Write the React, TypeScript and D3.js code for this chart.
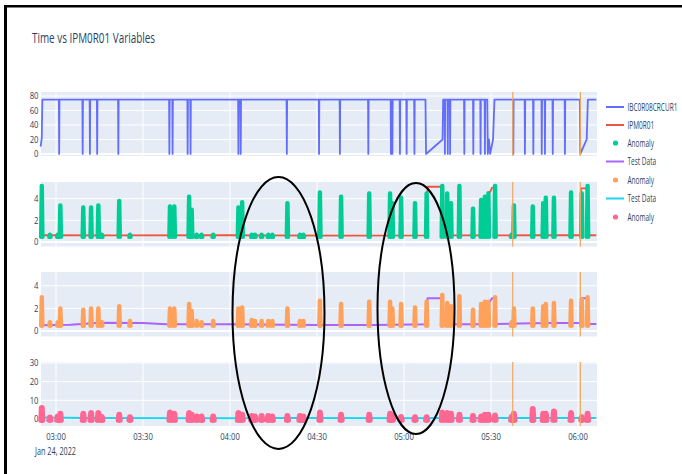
import React from 'react';
import * as d3 from 'd3';

// ---------------- data ----------------
const TITLE = 'Time vs IPM0R01 Variables';
const DATE_LABEL = 'Jan 24, 2022';
const START = new Date(2022, 0, 24, 3, 0, 0); // minutes below are measured from 03:00
const X_DOMAIN_MIN = [-5.17, 186.55];

const P1_TICKS = [0, 20, 40, 60, 80];
const P2_TICKS = [0, 2, 4];
const P3_TICKS = [0, 2, 4];
const P4_TICKS = [0, 10, 20, 30];

const LEGEND_NAMES = ['IBC0R08CRCUR1', 'IPM0R01', 'Anomaly', 'Test Data', 'Anomaly', 'Test Data', 'Anomaly'];
const LEGEND_KINDS = ['line', 'line', 'marker', 'line', 'marker', 'line', 'marker'];
const SERIES_COLORS = ['#636EFA', '#EF553B', '#00CC96', '#AB63FA', '#FFA15A', '#19D3F3', '#FF6692'];

// IBC0R08CRCUR1 : level with short drops to zero
const BLUE_LEVEL = 75;
const BLUE_DROPS = [1.1, 9.2, 11.7, 14.2, 21.5, 39.1, 40.2, 45.4, 46.4, 62.9, 63.7, 79.6, 90.7, 97.9,
  107.7, 115.5, 116.0, 118.6, 120.9, 123.6, 134.1, 135.1, 135.9, 140.8, 143.9, 146.4, 147.9,
  157.7, 161.7, 164.6, 167.5, 168.6, 171.3, 175.5];
const BLUE_GAP_POINTS: [number, number][] = [
  [-5.3, 10], [-4.9, 22], [-4.7, 75],
  [127.4, 75], [127.6, 0], [133.3, 20], [133.5, 75],
  [148.7, 75], [148.9, 0], [149.3, 20], [149.7, 0], [150.7, 20], [151.2, 75],
  [180.6, 75], [180.8, 0], [183.0, 20], [183.4, 75], [186.3, 75],
];

// IPM0R01 (panel 2)
const RED_LINE: [number, number][] = [
  [-5.3, 0.62], [20, 0.6], [60, 0.62], [100, 0.58], [128.0, 0.6], [128.1, 5.1], [132.9, 5.1], [133.0, 0.6],
  [148.9, 0.6], [149.0, 4.6], [149.7, 4.6], [150.3, 5.0], [151.4, 5.05], [151.5, 0.6],
  [165, 0.62], [180.9, 0.62], [181.0, 4.95], [183.3, 4.95], [183.4, 0.62], [186.3, 0.62],
];
// Test Data (panel 3)
const PURPLE_LINE: [number, number][] = [
  [-5.3, 0.5], [5, 0.55], [15, 0.72], [30, 0.7], [38, 0.6], [60, 0.6], [90, 0.52], [110, 0.52],
  [128.0, 0.6], [128.1, 2.9], [132.9, 2.9], [133.0, 0.6], [148.9, 0.6], [149.0, 2.6], [149.7, 2.6],
  [150.3, 2.9], [151.4, 2.9], [151.5, 0.62], [160, 0.66], [170, 0.7], [180.9, 0.7], [181.0, 2.9],
  [183.3, 2.9], [183.4, 0.62], [186.3, 0.62],
];
// Test Data (panel 4)
const CYAN_LINE: [number, number][] = [
  [-5.3, 0.8], [10, 0.5], [40, 0.4], [80, 0.5], [120, 0.45], [160, 0.6], [186.3, 0.6],
];

// Anomaly events (minutes after 03:00) and their peak values in each panel
const ANOMALY_TIMES = [-4.9, -2.1, 0.6, 1.5, 9.4, 12.1, 14.6, 15.8, 21.8, 25.5, 39.3, 40.8, 45.9, 46.8,
  48.5, 50.2, 54.2, 62.9, 64.2, 67.5, 68.6, 70.9, 73.2, 74.6, 79.8, 84.1, 85.3, 91.0, 98.3, 108.0,
  115.2, 116.0, 119.0, 123.8, 127.8, 133.2, 134.9, 136.2, 139.1, 143.8, 146.6, 147.9, 149.1, 151.4,
  157.1, 157.9, 164.4, 168.0, 168.9, 171.7, 177.6, 181.3, 183.3];
const ANOMALY_P2 = [5.2, 0.7, 0.7, 3.4, 3.2, 3.2, 3.4, 0.7, 3.8, 0.7, 3.3, 3.3, 4.2, 3.0,
  0.7, 0.7, 0.7, 3.2, 3.7, 0.7, 0.7, 0.7, 0.7, 0.7, 3.6, 0.7, 0.7, 4.6, 4.2, 4.5,
  4.5, 3.6, 4.1, 3.6, 4.5, 5.2, 4.5, 3.6, 5.2, 3.1, 3.9, 4.2, 4.5, 5.2,
  0.7, 3.4, 3.3, 3.6, 4.1, 4.1, 4.6, 4.5, 5.2];
const ANOMALY_P3 = [3.0, 0.8, 0.8, 2.0, 1.9, 2.0, 2.0, 0.8, 2.2, 0.9, 2.0, 2.0, 2.4, 1.8,
  0.9, 0.8, 0.9, 2.0, 2.1, 1.0, 0.9, 0.9, 0.9, 0.9, 2.0, 0.9, 0.9, 2.7, 2.4, 2.6,
  2.6, 2.0, 2.4, 2.1, 2.6, 3.2, 2.5, 2.2, 3.1, 1.9, 2.4, 2.6, 2.6, 3.0,
  0.8, 2.0, 2.0, 2.2, 2.4, 2.5, 2.7, 2.8, 3.0];
const ANOMALY_P4 = [6.0, 1.0, 1.5, 2.9, 3.0, 3.3, 3.3, 1.2, 2.4, 1.1, 3.6, 3.0, 3.3, 2.4,
  1.5, 1.5, 1.5, 3.3, 2.4, 1.8, 1.5, 1.8, 1.8, 1.5, 1.8, 1.8, 1.5, 3.6, 2.4, 2.4,
  2.9, 2.0, 1.2, 1.1, 1.1, 3.6, 3.3, 2.9, 2.4, 1.8, 1.5, 2.4, 2.4, 2.0,
  1.2, 2.9, 5.5, 2.9, 2.9, 4.2, 3.3, 1.1, 2.9];
const ANOMALY_BASES = [0.45, 0.45, -0.6];

const MARKER_LINE_TIMES = [157.5, 180.8];

// ---------------- drawing ----------------
const W = 682;
const H = 474;
const PLOT_LEFT = 41;
const PLOT_RIGHT = 597;
const TEXT = '#2a3f5f';
const FONT = "'Open Sans', 'Liberation Sans', sans-serif";

const toDate = (m: number) => new Date(START.getTime() + m * 60000);

const panels = [
  { top: 92, bottom: 156, domain: [-2.8, 85.5], ticks: P1_TICKS },
  { top: 182, bottom: 246.5, domain: [-0.42, 5.54], ticks: P2_TICKS },
  { top: 272, bottom: 336.5, domain: [-0.49, 5.22], ticks: P3_TICKS },
  { top: 362, bottom: 426, domain: [-3.74, 30.5], ticks: P4_TICKS },
];

export default function App() {
  const x = d3.scaleTime()
    .domain([toDate(X_DOMAIN_MIN[0]), toDate(X_DOMAIN_MIN[1])])
    .range([PLOT_LEFT, PLOT_RIGHT]);
  const xTicks = x.ticks(d3.timeMinute.every(30) as any);
  const fmt = d3.timeFormat('%H:%M');
  const ys = panels.map(p => d3.scaleLinear().domain(p.domain).range([p.bottom, p.top]));

  const lineGen = (y: d3.ScaleLinear<number, number>) =>
    d3.line<[number, number]>().x(d => x(toDate(d[0]))).y(d => y(d[1]));

  // blue series points
  const bluePts: [number, number][] = [...BLUE_GAP_POINTS];
  BLUE_DROPS.forEach(t => {
    bluePts.push([t - 0.1, BLUE_LEVEL], [t, 0], [t + 0.1, BLUE_LEVEL]);
  });
  bluePts.sort((a, b) => a[0] - b[0]);

  const spikePath = (y: d3.ScaleLinear<number, number>, t: number, peak: number, base: number) =>
    lineGen(y)([[t - 0.28, base], [t - 0.07, peak], [t + 0.07, peak], [t + 0.28, base]]);

  const anomalySets = [
    { panel: 1, values: ANOMALY_P2, base: ANOMALY_BASES[0], color: SERIES_COLORS[2], w: 4 },
    { panel: 2, values: ANOMALY_P3, base: ANOMALY_BASES[1], color: SERIES_COLORS[4], w: 4 },
    { panel: 3, values: ANOMALY_P4, base: ANOMALY_BASES[2], color: SERIES_COLORS[6], w: 5.5 },
  ];

  const lines = [
    { panel: 0, pts: bluePts, color: SERIES_COLORS[0], w: 1.8 },
    { panel: 1, pts: RED_LINE, color: SERIES_COLORS[1], w: 1.8 },
    { panel: 2, pts: PURPLE_LINE, color: SERIES_COLORS[3], w: 2 },
    { panel: 3, pts: CYAN_LINE, color: SERIES_COLORS[5], w: 2 },
  ];

  const legendY = [107, 125, 143, 161.5, 180, 198.5, 217];

  return (
    <svg width={W} height={H} style={{ position: 'absolute', left: 0, top: 0, background: '#fff' }}
      fontFamily={FONT}>
      <rect x={0} y={0} width={W} height={H} fill="#fff" />
      {/* frame */}
      <rect x={4} y={5} width={3} height={H - 5} fill="#000" />
      <rect x={4} y={5} width={W - 4} height={2.5} fill="#000" />

      <text x={32} y={43} fontSize={14} fill={TEXT} textLength={123} lengthAdjust="spacingAndGlyphs">{TITLE}</text>

      {panels.map((p, i) => {
        const y = ys[i];
        return (
          <g key={'p' + i}>
            <rect x={PLOT_LEFT} y={p.top} width={PLOT_RIGHT - PLOT_LEFT} height={p.bottom - p.top} fill="#E5ECF6" />
            {xTicks.map((t, j) => (
              <line key={'vx' + j} x1={x(t)} x2={x(t)} y1={p.top} y2={p.bottom} stroke="#fff" strokeWidth={1} />
            ))}
            {p.ticks.map(v => (
              <line key={'hy' + v} x1={PLOT_LEFT} x2={PLOT_RIGHT} y1={y(v)} y2={y(v)} stroke="#fff"
                strokeWidth={v === 0 ? 2 : 1} />
            ))}
            {p.ticks.map(v => {
              const s = String(v);
              return (
                <text key={'ty' + v} x={38.5} y={y(v) + 3.4} fontSize={9.5} fill={TEXT} textAnchor="end"
                  textLength={s.length * 4.4} lengthAdjust="spacingAndGlyphs">{s}</text>
              );
            })}
          </g>
        );
      })}

      {lines.map((l, i) => (
        <path key={'l' + i} d={lineGen(ys[l.panel])(l.pts) || ''} fill="none" stroke={l.color}
          strokeWidth={l.w} strokeLinejoin="round" />
      ))}

      {anomalySets.map((s, i) => (
        <g key={'a' + i}>
          {ANOMALY_TIMES.map((t, j) => (
            <path key={j} d={spikePath(ys[s.panel], t, s.values[j], s.base) || ''} fill="none"
              stroke={s.color} strokeWidth={s.w} strokeLinecap="round" strokeLinejoin="round" />
          ))}
        </g>
      ))}

      {panels.map((p, i) => (
        <g key={'m' + i}>
          {MARKER_LINE_TIMES.map((t, j) => (
            <line key={j} x1={x(toDate(t))} x2={x(toDate(t))} y1={p.top} y2={p.bottom}
              stroke="#F2A65A" strokeWidth={1.2} />
          ))}
        </g>
      ))}

      {xTicks.map((t, j) => (
        <text key={'tx' + j} x={x(t)} y={439.5} fontSize={9.5} fill={TEXT} textAnchor="middle"
          textLength={19.6} lengthAdjust="spacingAndGlyphs">{fmt(t)}</text>
      ))}
      <text x={35} y={454.5} fontSize={10} fill={TEXT} textLength={41} lengthAdjust="spacingAndGlyphs">{DATE_LABEL}</text>

      {LEGEND_NAMES.map((n, i) => (
        <g key={'lg' + i}>
          {LEGEND_KINDS[i] === 'line'
            ? <line x1={606} x2={624} y1={legendY[i]} y2={legendY[i]} stroke={SERIES_COLORS[i]} strokeWidth={2} />
            : <circle cx={615.5} cy={legendY[i]} r={2.6} fill={SERIES_COLORS[i]} />}
          <text transform={`translate(627.5, ${legendY[i] + 3.5}) scale(0.65, 1)`} fontSize={10} fill={TEXT}>{n}</text>
        </g>
      ))}

      {/* hand-drawn highlight ellipses */}
      <ellipse cx={278.5} cy={313} rx={46} ry={136} fill="none" stroke="#000" strokeWidth={2} />
      <ellipse cx={416} cy={308.5} rx={38.5} ry={125.5} fill="none" stroke="#000" strokeWidth={2} />
    </svg>
  );
}
